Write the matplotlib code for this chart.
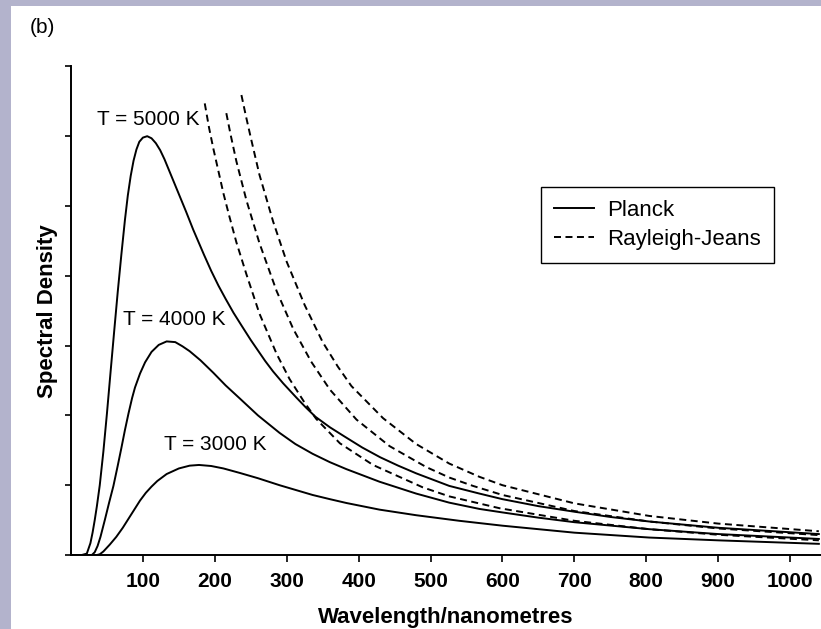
import matplotlib
matplotlib.use("Agg")
import matplotlib.pyplot as plt
from matplotlib.patches import Rectangle

plt.rcParams['font.family'] = ['Liberation Sans', 'DejaVu Sans']

# Planck curves (wavelength in nm, spectral density in tick units)
p5000_x = [0, 15, 22, 27, 30, 33, 36, 40, 45, 50, 55, 60, 65, 70, 75, 79, 83, 87, 91,
           95, 100, 106, 112, 118, 124, 130, 136, 144, 152, 160, 170, 185, 195, 205,
           215, 226, 237, 250, 260, 270, 281, 295, 313, 326, 340, 360, 380, 405, 430,
           455, 480, 526, 568, 600, 650, 700, 750, 804, 900, 1040]
p5000_y = [0, 0, 0.02, 0.17, 0.32, 0.5, 0.7, 1.0, 1.48, 2.03, 2.62, 3.2, 3.77, 4.3,
           4.8, 5.15, 5.43, 5.65, 5.81, 5.92, 5.98, 6.0, 5.97, 5.90, 5.80, 5.67, 5.52,
           5.32, 5.12, 4.92, 4.66, 4.30, 4.07, 3.86, 3.67, 3.47, 3.29, 3.08, 2.93, 2.78,
           2.63, 2.46, 2.26, 2.12, 1.98, 1.83, 1.70, 1.54, 1.40, 1.28, 1.17, 0.99, 0.88,
           0.80, 0.70, 0.62, 0.545, 0.48, 0.39, 0.30]

p4000_x = [0, 29, 33, 37, 41, 47, 53, 59, 65, 70, 75, 80, 85, 89, 96, 103, 112, 122,
           133, 145, 155, 165, 180, 198, 215, 235, 260, 290, 312, 336, 360, 383, 429,
           480, 526, 568, 600, 650, 700, 804, 900, 1040]
p4000_y = [0, 0, 0.04, 0.13, 0.26, 0.5, 0.75, 0.99, 1.28, 1.53, 1.79, 2.03, 2.25,
           2.40, 2.60, 2.76, 2.91, 3.01, 3.06, 3.05, 2.99, 2.92, 2.79, 2.61, 2.43, 2.24,
           2.00, 1.75, 1.59, 1.45, 1.33, 1.23, 1.05, 0.88, 0.75, 0.66, 0.61, 0.535, 0.47,
           0.37, 0.30, 0.23]

p3000_x = [0, 36, 40, 45, 54, 63, 72, 80, 88, 96, 104, 112, 120, 133, 150, 165, 178,
           195, 212, 235, 260, 290, 336, 360, 383, 429, 480, 540, 600, 700, 804, 900,
           1040]
p3000_y = [0, 0, 0.01, 0.05, 0.15, 0.26, 0.39, 0.52, 0.65, 0.78, 0.89, 0.98, 1.06,
           1.16, 1.24, 1.28, 1.29, 1.275, 1.24, 1.175, 1.10, 1.0, 0.86, 0.80, 0.745,
           0.65, 0.57, 0.49, 0.42, 0.32, 0.25, 0.21, 0.16]

# Rayleigh-Jeans curves
rj3000_x = [186, 192, 198, 205, 212, 220, 230, 244, 262, 286, 304, 325, 341, 374, 420,
            489, 526, 596, 700, 804, 900, 1040]
rj3000_y = [6.47, 6.12, 5.82, 5.50, 5.18, 4.86, 4.48, 4.02, 3.46, 2.88, 2.52, 2.18,
            1.95, 1.60, 1.29, 0.97, 0.84, 0.67, 0.49, 0.37, 0.29, 0.21]

rj4000_x = [216, 222, 230, 244, 262, 286, 309, 334, 360, 397, 443, 494, 526, 559, 600,
            700, 804, 900, 1040]
rj4000_y = [6.33, 6.02, 5.64, 5.08, 4.47, 3.78, 3.24, 2.77, 2.37, 1.94, 1.56, 1.26,
            1.11, 0.99, 0.86, 0.63, 0.48, 0.38, 0.285]

rj5000_x = [237, 243, 250, 262, 281, 300, 325, 350, 371, 390, 434, 480, 526, 568, 600,
            700, 804, 900, 1040]
rj5000_y = [6.59, 6.30, 5.98, 5.45, 4.78, 4.20, 3.58, 3.05, 2.70, 2.42, 1.96, 1.59,
            1.31, 1.12, 1.00, 0.74, 0.56, 0.45, 0.34]

xticks = [100, 200, 300, 400, 500, 600, 700, 800, 900, 1000]
temp_labels = ['T = 5000 K', 'T = 4000 K', 'T = 3000 K']
label_pos = [(107, 6.24), (144, 3.37), (201, 1.58)]

W, H = 821, 629
fig = plt.figure(figsize=(W / 100, H / 100), dpi=100)
fig.patch.set_facecolor('#b3b3cc')
fig.add_artist(Rectangle((11 / W, 0), 1, 1 - 6 / H, transform=fig.transFigure,
                         facecolor='white', edgecolor='none', zorder=-5))

ax = fig.add_axes([71 / W, 74 / H, 1 - 71 / W, (555 - 66.4) / H])
ax.set_facecolor('none')

lw = 1.4
dash = (0, (3.6, 2.3))
ax.plot(p5000_x, p5000_y, color='black', lw=lw, label='Planck')
ax.plot(p4000_x, p4000_y, color='black', lw=lw)
ax.plot(p3000_x, p3000_y, color='black', lw=lw)
ax.plot(rj3000_x, rj3000_y, color='black', lw=lw, linestyle=dash, label='Rayleigh-Jeans')
ax.plot(rj4000_x, rj4000_y, color='black', lw=lw, linestyle=dash)
ax.plot(rj5000_x, rj5000_y, color='black', lw=lw, linestyle=dash)

for txt, (tx, ty) in zip(temp_labels, label_pos):
    ax.text(tx, ty, txt, fontsize=15, ha='center', va='center')

ax.set_xlim(0, 1043)
ax.set_ylim(0, 7)
ax.set_xticks(xticks)
ax.set_xticklabels([str(v) for v in xticks], fontsize=15, fontweight='bold')
ax.set_yticks(range(8))
ax.set_yticklabels([])
ax.tick_params(axis='x', length=5, width=1.2, pad=7)
ax.tick_params(axis='y', length=4, width=1.2)
for s in ['top', 'right']:
    ax.spines[s].set_visible(False)
for s in ['left', 'bottom']:
    ax.spines[s].set_linewidth(1.4)

ax.set_xlabel('Wavelength/nanometres', fontsize=16, fontweight='bold', labelpad=12)
ax.set_ylabel('Spectral Density', fontsize=16, fontweight='bold', labelpad=2)

leg = ax.legend(loc='upper left', bbox_to_anchor=(540.7 / W, 1 - 186.7 / H),
                bbox_transform=fig.transFigure, fontsize=16, frameon=True,
                fancybox=False, framealpha=1, edgecolor='black', handlelength=1.8,
                handletextpad=0.6, labelspacing=0.35, borderpad=0.6, borderaxespad=0)
leg.get_frame().set_linewidth(1.0)

fig.text(30 / W, 1 - 27.5 / H, '(b)', fontsize=15, ha='left', va='center')

fig.savefig('out.png', dpi=100)
